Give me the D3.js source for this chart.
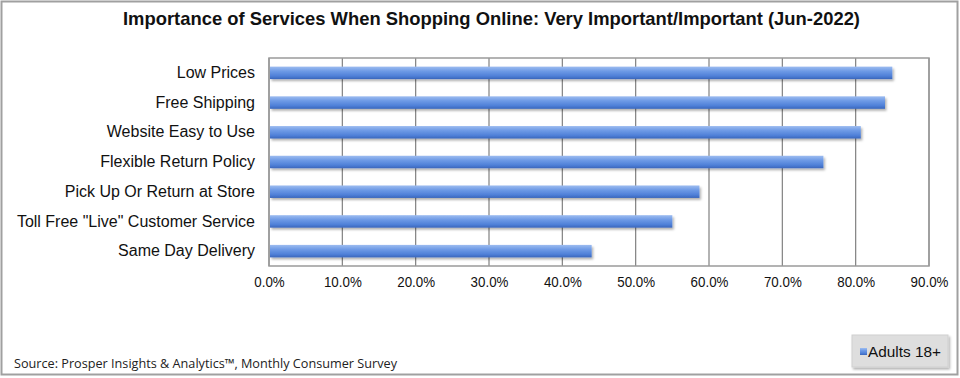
<!DOCTYPE html>
<html>
<head>
<meta charset="utf-8">
<script src="https://cdn.jsdelivr.net/npm/d3@7"></script>
<style>
body { margin:0; background:#fff; }
#chart { width:960px; height:378px; }
</style>
</head>
<body>
<div id="chart"></div>
<script>
var categories = ["Low Prices", "Free Shipping", "Website Easy to Use", "Flexible Return Policy",
	"Pick Up Or Return at Store", "Toll Free \"Live\" Customer Service", "Same Day Delivery"];
var values = [85.0, 84.0, 80.7, 75.6, 58.7, 55.0, 44.0];
var ticks = [0, 10, 20, 30, 40, 50, 60, 70, 80, 90];
var seriesName = "Adults 18+";

var width = 960, height = 378;
var plot = {left:269, right:929, top:58, bottom:266};

var svg = d3.select("#chart")
	.append("svg")
	.attr("width", width)
	.attr("height", height);

var defs = svg.append("defs");
var grad = defs.append("linearGradient")
	.attr("id", "barGrad")
	.attr("x1", 0).attr("y1", 0).attr("x2", 0).attr("y2", 1);
grad.append("stop").attr("offset", "0%").attr("stop-color", "#9dbcf0");
grad.append("stop").attr("offset", "35%").attr("stop-color", "#6f9be6");
grad.append("stop").attr("offset", "75%").attr("stop-color", "#4f80d8");
grad.append("stop").attr("offset", "100%").attr("stop-color", "#3a66bb");

var shadow = defs.append("filter").attr("id", "shadow")
	.attr("x", "-10%").attr("y", "-30%").attr("width", "130%").attr("height", "180%");
shadow.append("feDropShadow")
	.attr("dx", 1.5).attr("dy", 2).attr("stdDeviation", 1.2)
	.attr("flood-color", "#000").attr("flood-opacity", 0.3);

// outer frame
svg.append("rect")
	.attr("x", 1.5).attr("y", 1.5)
	.attr("width", 956).attr("height", 373)
	.attr("fill", "#fff")
	.attr("stroke", "#a0a0a0")
	.attr("stroke-width", 2);

var xScale = d3.scaleLinear()
	.domain([0, 90])
	.range([plot.left, plot.right]);

var yScale = d3.scaleBand()
	.domain(categories)
	.range([plot.top, plot.bottom])
	.paddingInner(0.58)
	.paddingOuter(0.29);

// gridlines
svg.append("g")
	.selectAll("line")
	.data(ticks)
	.enter()
	.append("line")
	.attr("x1", function(d){ return xScale(d); })
	.attr("x2", function(d){ return xScale(d); })
	.attr("y1", plot.top)
	.attr("y2", plot.bottom)
	.attr("stroke", "#808080")
	.attr("stroke-width", 1.2);

svg.append("rect")
	.attr("x", plot.left).attr("y", plot.top)
	.attr("width", plot.right - plot.left)
	.attr("height", plot.bottom - plot.top)
	.attr("fill", "none")
	.attr("stroke", "#9a9a9a")
	.attr("stroke-width", 1.5);

// bars
svg.append("g")
	.selectAll("rect")
	.data(values)
	.enter()
	.append("rect")
	.attr("x", xScale(0) + 1)
	.attr("y", function(d, i){ return yScale(categories[i]); })
	.attr("width", function(d){ return xScale(d) - xScale(0) - 1; })
	.attr("height", yScale.bandwidth())
	.attr("fill", "url(#barGrad)")
	.attr("filter", "url(#shadow)");

// axes
var xAxis = d3.axisBottom(xScale)
	.tickValues(ticks)
	.tickFormat(function(d){ return d.toFixed(1) + "%"; })
	.tickSizeInner(0)
	.tickSizeOuter(0)
	.tickPadding(10);

var gx = svg.append("g")
	.attr("transform", "translate(0," + plot.bottom + ")")
	.call(xAxis);
gx.select(".domain").remove();
gx.selectAll("text")
	.attr("font-family", "Liberation Sans, Arial, sans-serif")
	.attr("font-size", 15.5)
	.attr("fill", "#111");
gx.selectAll(".tick text").each(function(){
	d3.select(this).attr("textLength", this.getComputedTextLength() * 0.86).attr("lengthAdjust", "spacingAndGlyphs");
});

var yAxis = d3.axisLeft(yScale)
	.tickSizeInner(0)
	.tickSizeOuter(0)
	.tickPadding(14);

var gy = svg.append("g")
	.attr("transform", "translate(" + plot.left + ",0)")
	.call(yAxis);
gy.select(".domain").remove();
gy.selectAll("text")
	.attr("font-family", "Liberation Sans, Arial, sans-serif")
	.attr("font-size", 16)
	.attr("fill", "#111");

// title
svg.append("text")
	.attr("x", 123)
	.attr("y", 25)
	.attr("textLength", 737)
	.attr("lengthAdjust", "spacingAndGlyphs")
	.attr("font-family", "Liberation Sans Narrow, Liberation Sans, Arial, sans-serif")
	.attr("font-weight", "bold")
	.attr("font-size", 19)
	.attr("fill", "#111")
	.text("Importance of Services When Shopping Online: Very Important/Important (Jun-2022)");

// source
svg.append("text")
	.attr("x", 14)
	.attr("y", 368)
	.attr("textLength", 383)
	.attr("lengthAdjust", "spacingAndGlyphs")
	.attr("font-family", "Open Sans, sans-serif")
	.attr("font-size", 12.5)
	.attr("fill", "#222")
	.text("Source: Prosper Insights & Analytics\u2122, Monthly Consumer Survey");

// legend
var legend = svg.append("g");
legend.append("rect")
	.attr("x", 852).attr("y", 335)
	.attr("width", 96).attr("height", 32)
	.attr("fill", "#dedede")
	.attr("stroke", "#d0d0d0")
	.attr("filter", "url(#shadow)");
legend.append("rect")
	.attr("x", 860).attr("y", 348)
	.attr("width", 7).attr("height", 7)
	.attr("fill", "url(#barGrad)");
legend.append("text")
	.attr("x", 868)
	.attr("y", 357)
	.attr("textLength", 73)
	.attr("lengthAdjust", "spacingAndGlyphs")
	.attr("font-family", "Liberation Sans, Arial, sans-serif")
	.attr("font-size", 15.5)
	.attr("fill", "#111")
	.text(seriesName);
</script>
</body>
</html>
